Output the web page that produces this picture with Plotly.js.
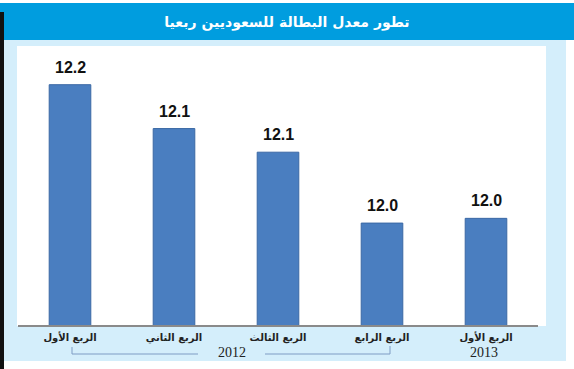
<!DOCTYPE html>
<html>
<head>
<meta charset="utf-8">
<script src="https://cdn.plot.ly/plotly-3.0.1.min.js"></script>
<style>html,body{margin:0;padding:0;background:#fff}#chart{width:574px;height:369px}</style>
</head>
<body>
<div id="chart"></div>
<script>
const categories = ['2012-Q1', '2012-Q2', '2012-Q3', '2012-Q4', '2013-Q1'];
const tickLabels = ['الربع الأول', 'الربع الثاني', 'الربع الثالث', 'الربع الرابع', 'الربع الأول'];
const values = [12.2, 12.135, 12.1, 11.995, 12.002];
const years = ['2012', '2013'];
const titleText = 'تطور معدل البطالة للسعوديين ربعيا';

const W = 574, H = 369;
const L = 18, R = 538, T = 46, B = 325;
const px = x => (x - L) / (R - L);
const py = y => 1 - (y - T) / (B - T);

function rect(x0, y0, x1, y1, color) {
  return {type: 'rect', xref: 'paper', yref: 'paper', layer: 'below',
    x0: px(x0), x1: px(x1), y0: py(y1), y1: py(y0),
    fillcolor: color, line: {width: 0}};
}

const bracketColor = '#7f9cc4';
const shapes = [
  rect(0, 3, 574, 40, '#009ddf'),
  rect(4, 40, 566, 361, '#d4eefb'),
  rect(0, 12, 4, 369, '#111111'),
  rect(17, 46, 546, 326, '#ffffff'),
  {type: 'path', xref: 'paper', yref: 'paper', layer: 'above',
   path: `M ${px(72)} ${py(347)} L ${px(72)} ${py(354)} L ${px(198)} ${py(354)}`,
   line: {color: bracketColor, width: 1}},
  {type: 'path', xref: 'paper', yref: 'paper', layer: 'above',
   path: `M ${px(265)} ${py(354)} L ${px(390)} ${py(354)} L ${px(390)} ${py(346)}`,
   line: {color: bracketColor, width: 1}}
];

const annotations = categories.map((c, i) => ({
  x: c, y: values[i], xref: 'x', yref: 'y',
  text: values[i].toFixed(1), showarrow: false,
  yanchor: 'bottom', yshift: 7,
  font: {family: 'Liberation Sans, Arial, sans-serif', size: 16, color: '#111', weight: 'bold'}
}));
annotations.push(
  {xref: 'paper', yref: 'paper', x: px(232), y: py(352), text: years[0], showarrow: false,
   xanchor: 'center', yanchor: 'middle',
   font: {family: 'Liberation Serif, Times New Roman, serif', size: 14, color: '#222'}},
  {xref: 'paper', yref: 'paper', x: px(484), y: py(352), text: years[1], showarrow: false,
   xanchor: 'center', yanchor: 'middle',
   font: {family: 'Liberation Serif, Times New Roman, serif', size: 14, color: '#222'}}
);

const trace = {
  type: 'bar', x: categories, y: values,
  marker: {color: '#4a7ec0', line: {color: '#3a68a4', width: 1}},
  hoverinfo: 'none'
};

const layout = {
  width: W, height: H,
  margin: {l: L, r: W - R, t: T, b: H - B, pad: 0},
  paper_bgcolor: '#ffffff',
  plot_bgcolor: 'rgba(0,0,0,0)',
  bargap: 0.6,
  showlegend: false,
  title: {text: '<b>' + titleText + '</b>', x: 287 / W, xref: 'container', xanchor: 'center',
    y: 1 - 22 / H, yref: 'container', yanchor: 'middle',
    font: {family: 'DejaVu Sans, sans-serif', size: 14, color: '#ffffff'}},
  xaxis: {type: 'category', tickvals: categories, ticktext: tickLabels,
    showline: true, linecolor: '#8a8a8a', linewidth: 2, ticks: '', showgrid: false,
    zeroline: false, ticklabelstandoff: 2,
    tickfont: {family: 'DejaVu Sans, sans-serif', size: 10, color: '#222', weight: 'bold'}},
  yaxis: {range: [11.844, 11.844 + (B - T) / 675], visible: false, showgrid: false, zeroline: false},
  shapes: shapes,
  annotations: annotations
};

Plotly.newPlot('chart', [trace], layout, {displayModeBar: false, staticPlot: true});
</script>
</body>
</html>
